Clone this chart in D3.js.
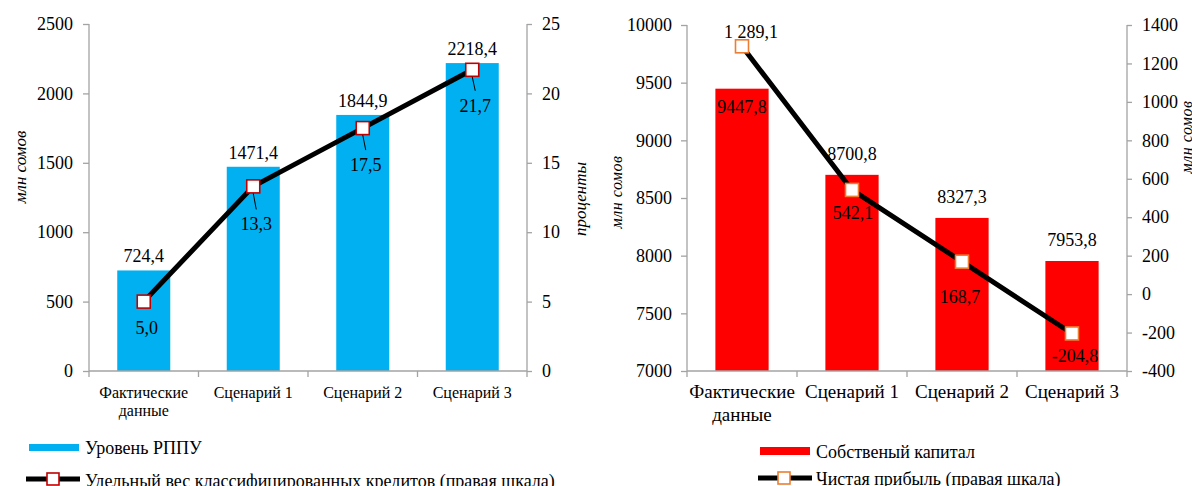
<!DOCTYPE html>
<html>
<head>
<meta charset="utf-8">
<script src="https://cdn.jsdelivr.net/npm/d3@7"></script>
<style>
  body { margin: 0; background: #fff; }
  svg { display: block; font-family: "Liberation Serif", "DejaVu Serif", serif; }
</style>
</head>
<body>
<svg id="chart" width="1192" height="486"></svg>
<script>
// Data.
const categories = ["Фактические данные", "Сценарий 1", "Сценарий 2", "Сценарий 3"];

const rppu = [724.4, 1471.4, 1844.9, 2218.4];          // left panel bars
const classifiedShare = [5.0, 13.3, 17.5, 21.7];        // left panel line, right scale
const leftTicks = [0, 500, 1000, 1500, 2000, 2500];
const leftRightTicks = [0, 5, 10, 15, 20, 25];

const equity = [9447.8, 8700.8, 8327.3, 7953.8];        // right panel bars
const netProfit = [1289.1, 542.1, 168.7, -204.8];       // right panel line, right scale
const rightTicks = [7000, 7500, 8000, 8500, 9000, 9500, 10000];
const rightRightTicks = [-400, -200, 0, 200, 400, 600, 800, 1000, 1200, 1400];

const svg = d3.select("#chart");
const serif = '"Liberation Serif", "DejaVu Serif", serif';
const axisGray = "#a3a3a3";
const comma = (v) => v.toFixed(1).replace(".", ",");
const spaced = (v) => {
  const [i, f] = v.toFixed(1).split(".");
  return i.replace(/\B(?=(\d{3})+(?!\d))/g, " ") + "," + f;
};

function axisStyle(g) {
  g.attr("font-family", serif).attr("font-size", 18);
  g.selectAll("path, line").attr("stroke", axisGray).attr("stroke-width", 1.3);
  g.selectAll("text").attr("fill", "#000");
}

// Category axis with ticks at band boundaries, labels centered.
function drawCategoryAxis(x, yBase, fontSize, lineGap) {
  const g = svg.append("g");
  const [x0, x1] = x.range();
  g.append("line").attr("x1", x0).attr("x2", x1).attr("y1", yBase).attr("y2", yBase)
    .attr("stroke", axisGray).attr("stroke-width", 1.3);
  d3.range(categories.length + 1).forEach((i) => {
    const xi = x0 + i * x.step();
    g.append("line").attr("x1", xi).attr("x2", xi).attr("y1", yBase).attr("y2", yBase + 6)
      .attr("stroke", axisGray).attr("stroke-width", 1.3);
  });
  categories.forEach((c) => {
    const words = c === "Фактические данные" ? ["Фактические", "данные"] : [c];
    const t = g.append("text").attr("text-anchor", "middle")
      .attr("font-size", fontSize)
      .attr("x", x(c) + x.bandwidth() / 2).attr("y", yBase + 27);
    words.forEach((w, i) => {
      t.append("tspan").attr("x", x(c) + x.bandwidth() / 2).attr("dy", i ? lineGap : 0).text(w);
    });
  });
}

function drawLine(x, y, values, stroke) {
  const cx = (d, i) => x(categories[i]) + x.bandwidth() / 2;
  svg.append("path")
    .datum(values)
    .attr("fill", "none").attr("stroke", "#000").attr("stroke-width", 5)
    .attr("stroke-linejoin", "round")
    .attr("d", d3.line().x(cx).y((d) => y(d)));
  svg.selectAll(null).data(values).enter().append("rect")
    .attr("x", (d, i) => cx(d, i) - 6.5).attr("y", (d) => y(d) - 6.5)
    .attr("width", 13).attr("height", 13)
    .attr("fill", "#fff").attr("stroke", stroke).attr("stroke-width", 1.6);
  return cx;
}

// ---------- Left panel ----------
{
  const xL = d3.scaleBand().domain(categories).range([89, 527]).paddingInner(0.516).paddingOuter(0.258);
  const yL = d3.scaleLinear().domain([0, 2500]).range([371, 24]);
  const yR = d3.scaleLinear().domain([0, 25]).range([371, 24]);

  svg.append("g").attr("transform", "translate(89,0)")
    .call(d3.axisLeft(yL).tickValues(leftTicks).tickSize(6).tickPadding(10).tickFormat(String))
    .call((g) => g.select(".domain").attr("d", "M0,24V371"))
    .call(axisStyle);
  svg.append("g").attr("transform", "translate(527,0)")
    .call(d3.axisRight(yR).tickValues(leftRightTicks).tickSize(5).tickPadding(10).tickFormat(String))
    .call((g) => g.select(".domain").attr("d", "M0,24V371"))
    .call(axisStyle);

  svg.selectAll(null).data(rppu).enter().append("rect")
    .attr("x", (d, i) => xL(categories[i])).attr("width", xL.bandwidth())
    .attr("y", (d) => yL(d)).attr("height", (d) => yL(0) - yL(d))
    .attr("fill", "#00b0f0");

  drawCategoryAxis(xL, 371, 16, 18);

  svg.selectAll(null).data(rppu).enter().append("text")
    .attr("text-anchor", "middle").attr("font-size", 18)
    .attr("x", (d, i) => xL(categories[i]) + xL.bandwidth() / 2)
    .attr("y", (d) => yL(d) - 8)
    .text(comma);

  const cx = drawLine(xL, yR, classifiedShare, "#c00000");
  const below = [26, 38, 37, 36];
  classifiedShare.forEach((d, i) => {
    const px = cx(d, i), py = yR(d);
    if (i > 0) {
      svg.append("line").attr("x1", px).attr("y1", py + 7).attr("x2", px + 3).attr("y2", py + below[i] - 15)
        .attr("stroke", "#000").attr("stroke-width", 1);
    }
    svg.append("text").attr("text-anchor", "middle").attr("font-size", 18)
      .attr("x", px + 3).attr("y", py + below[i] + 6).text(comma(d));
  });

  svg.append("text").attr("transform", "translate(26,167) rotate(-90)")
    .attr("text-anchor", "middle").attr("font-size", 17).attr("font-style", "italic").text("млн сомов");
  svg.append("text").attr("transform", "translate(586,199) rotate(-90)")
    .attr("text-anchor", "middle").attr("font-size", 17).attr("font-style", "italic").text("проценты");

  // legend
  svg.append("rect").attr("x", 29).attr("y", 444).attr("width", 50).attr("height", 7).attr("fill", "#00b0f0");
  svg.append("text").attr("x", 85).attr("y", 454).attr("font-size", 18).text("Уровень РППУ");
  svg.append("line").attr("x1", 26).attr("x2", 80).attr("y1", 479).attr("y2", 479)
    .attr("stroke", "#000").attr("stroke-width", 5);
  svg.append("rect").attr("x", 47).attr("y", 473).attr("width", 12).attr("height", 12)
    .attr("fill", "#fff").attr("stroke", "#c00000").attr("stroke-width", 1.6);
  svg.append("text").attr("x", 85).attr("y", 487).attr("font-size", 18)
    .text("Удельный вес классифицированных кредитов (правая шкала)");
}

// ---------- Right panel ----------
{
  const xL = d3.scaleBand().domain(categories).range([687, 1127]).paddingInner(0.516).paddingOuter(0.258);
  const yL = d3.scaleLinear().domain([7000, 10000]).range([371, 25]);
  const yR = d3.scaleLinear().domain([-400, 1400]).range([371, 25]);

  svg.append("g").attr("transform", "translate(687,0)")
    .call(d3.axisLeft(yL).tickValues(rightTicks).tickSize(6).tickPadding(9).tickFormat(String))
    .call((g) => g.select(".domain").attr("d", "M0,25V371"))
    .call(axisStyle);
  svg.append("g").attr("transform", "translate(1127,0)")
    .call(d3.axisRight(yR).tickValues(rightRightTicks).tickSize(5).tickPadding(10).tickFormat(String))
    .call((g) => g.select(".domain").attr("d", "M0,25V371"))
    .call(axisStyle);

  svg.selectAll(null).data(equity).enter().append("rect")
    .attr("x", (d, i) => xL(categories[i])).attr("width", xL.bandwidth())
    .attr("y", (d) => yL(d)).attr("height", (d) => yL(7000) - yL(d))
    .attr("fill", "#ff0000");

  drawCategoryAxis(xL, 371, 19, 23);

  svg.selectAll(null).data(equity).enter().append("text")
    .attr("text-anchor", "middle").attr("font-size", 18)
    .attr("x", (d, i) => xL(categories[i]) + xL.bandwidth() / 2)
    .attr("y", (d, i) => i === 0 ? yL(d) + 24 : yL(d) - 15)
    .text(comma);

  const cx = drawLine(xL, yR, netProfit, "#ed7d31");
  const offs = [[9, -14], [1, 23], [-2, 35], [3, 23]];
  netProfit.forEach((d, i) => {
    svg.append("text").attr("text-anchor", "middle").attr("font-size", 18)
      .attr("x", cx(d, i) + offs[i][0]).attr("y", yR(d) + offs[i][1] + 6).text(spaced(d));
  });

  svg.append("text").attr("transform", "translate(622,192) rotate(-90)")
    .attr("text-anchor", "middle").attr("font-size", 16).attr("font-style", "italic")
    .attr("letter-spacing", 0.5).text("млн сомов");
  svg.append("text").attr("transform", "translate(1192,137) rotate(-90)")
    .attr("text-anchor", "middle").attr("font-size", 16).attr("font-style", "italic")
    .attr("letter-spacing", 0.5).text("млн сомов");

  // legend
  svg.append("rect").attr("x", 760).attr("y", 447).attr("width", 50).attr("height", 8).attr("fill", "#ff0000");
  svg.append("text").attr("x", 816).attr("y", 458).attr("font-size", 18).text("Собственый капитал");
  svg.append("line").attr("x1", 758).attr("x2", 812).attr("y1", 478).attr("y2", 478)
    .attr("stroke", "#000").attr("stroke-width", 5);
  svg.append("rect").attr("x", 778).attr("y", 472).attr("width", 12).attr("height", 12)
    .attr("fill", "#fff").attr("stroke", "#ed7d31").attr("stroke-width", 1.6);
  svg.append("text").attr("x", 816).attr("y", 485).attr("font-size", 18).text("Чистая прибыль (правая шкала)");
}
</script>
</body>
</html>
